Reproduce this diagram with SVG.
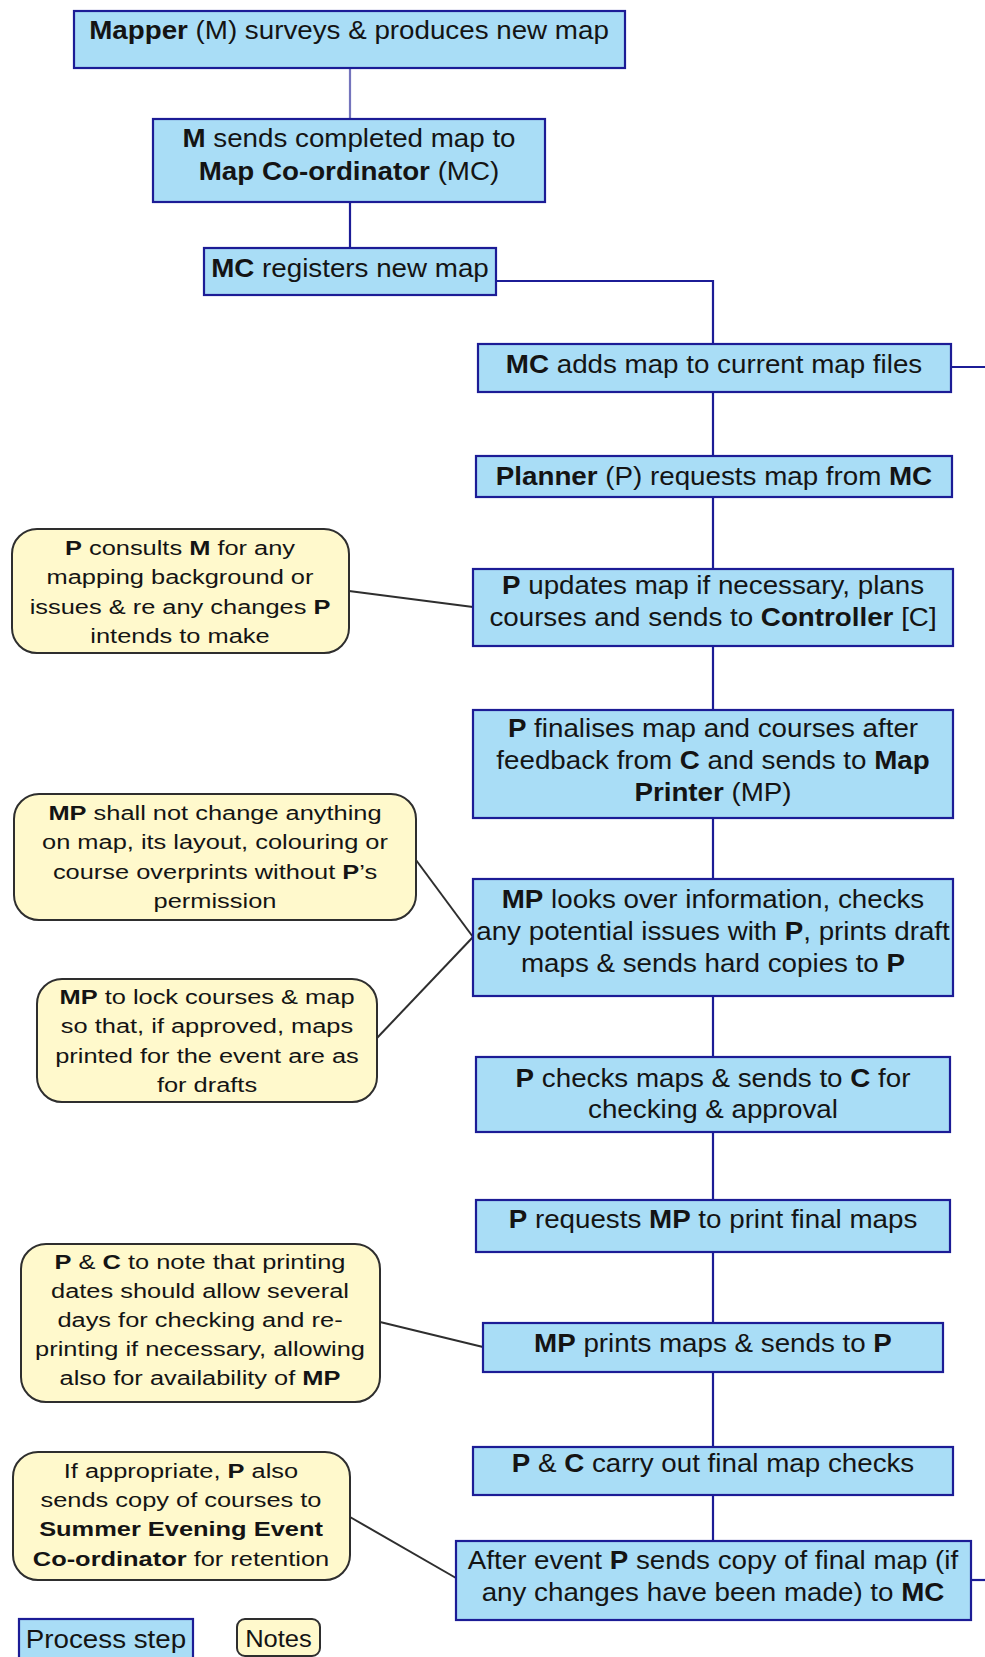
<svg xmlns="http://www.w3.org/2000/svg" width="985" height="1657" viewBox="0 0 985 1657">
<style>
.box rect{fill:#a9ddf6;stroke:#1c1c96;stroke-width:2.2}
.note rect{fill:#fff9cc;stroke:#2e2e2e;stroke-width:2}
text{font-family:"Liberation Sans",Arial,sans-serif;fill:#141414}
.bt{font-size:25px;text-anchor:middle}
.nt{font-size:20px;text-anchor:middle}
.b{font-weight:bold}
.flow{stroke:#1c1c96;stroke-width:2.2;fill:none}
.flow.light{stroke:#7474bc}
.link{stroke:#2e2e2e;stroke-width:2;fill:none}
</style>
<rect width="985" height="1657" fill="#ffffff"/>
<g id="connectors">
<line class="flow light" x1="350" y1="68" x2="350" y2="119"/>
<line class="flow" x1="350" y1="202" x2="350" y2="248"/>
<polyline class="flow" points="496,281 713,281 713,344"/>
<line class="flow" x1="951" y1="367" x2="985" y2="367"/>
<line class="flow" x1="713" y1="392" x2="713" y2="456"/>
<line class="flow" x1="713" y1="497" x2="713" y2="569"/>
<line class="flow" x1="713" y1="646" x2="713" y2="710"/>
<line class="flow" x1="713" y1="818" x2="713" y2="879"/>
<line class="flow" x1="713" y1="996" x2="713" y2="1057"/>
<line class="flow" x1="713" y1="1132" x2="713" y2="1200"/>
<line class="flow" x1="713" y1="1252" x2="713" y2="1323"/>
<line class="flow" x1="713" y1="1372" x2="713" y2="1447"/>
<line class="flow" x1="713" y1="1495" x2="713" y2="1541"/>
<line class="flow" x1="971" y1="1580" x2="985" y2="1580"/>
<line class="link" x1="349" y1="591" x2="473" y2="607"/>
<line class="link" x1="416" y1="860" x2="473" y2="937"/>
<line class="link" x1="377" y1="1038" x2="473" y2="937"/>
<line class="link" x1="380" y1="1322" x2="483" y2="1347"/>
<line class="link" x1="350" y1="1517" x2="456" y2="1578"/>
</g>
<g id="n1" class="box">
<rect x="74" y="11" width="551" height="57"/>
<text class="bt" transform="translate(349,0) scale(1.11,1)" y="39"><tspan class="b">Mapper</tspan> (M) surveys &amp; produces new map</text>
</g>
<g id="n2" class="box">
<rect x="153" y="119" width="392" height="83"/>
<text class="bt" transform="translate(349,0) scale(1.11,1)"><tspan x="0" y="147"><tspan class="b">M</tspan> sends completed map to</tspan><tspan x="0" y="180"><tspan class="b">Map Co-ordinator</tspan> (MC)</tspan></text>
</g>
<g id="n3" class="box">
<rect x="204" y="248" width="292" height="47"/>
<text class="bt" transform="translate(350,0) scale(1.11,1)" y="277"><tspan class="b">MC</tspan> registers new map</text>
</g>
<g id="n4" class="box">
<rect x="478" y="344" width="473" height="48"/>
<text class="bt" transform="translate(714,0) scale(1.11,1)" y="373"><tspan class="b">MC</tspan> adds map to current map files</text>
</g>
<g id="n5" class="box">
<rect x="476" y="456" width="476" height="41"/>
<text class="bt" transform="translate(714,0) scale(1.11,1)" y="485"><tspan class="b">Planner</tspan> (P) requests map from <tspan class="b">MC</tspan></text>
</g>
<g id="n6" class="box">
<rect x="473" y="569" width="480" height="77"/>
<text class="bt" transform="translate(713,0) scale(1.11,1)"><tspan x="0" y="594"><tspan class="b">P</tspan> updates map if necessary, plans</tspan><tspan x="0" y="626">courses and sends to <tspan class="b">Controller</tspan> [C]</tspan></text>
</g>
<g id="n7" class="box">
<rect x="473" y="710" width="480" height="108"/>
<text class="bt" transform="translate(713,0) scale(1.11,1)"><tspan x="0" y="737"><tspan class="b">P</tspan> finalises map and courses after</tspan><tspan x="0" y="769">feedback from <tspan class="b">C</tspan> and sends to <tspan class="b">Map</tspan></tspan><tspan x="0" y="801"><tspan class="b">Printer</tspan> (MP)</tspan></text>
</g>
<g id="n8" class="box">
<rect x="473" y="879" width="480" height="117"/>
<text class="bt" transform="translate(713,0) scale(1.11,1)"><tspan x="0" y="908"><tspan class="b">MP</tspan> looks over information, checks</tspan><tspan x="0" y="940">any potential issues with <tspan class="b">P</tspan>, prints draft</tspan><tspan x="0" y="972">maps &amp; sends hard copies to <tspan class="b">P</tspan></tspan></text>
</g>
<g id="n9" class="box">
<rect x="476" y="1057" width="474" height="75"/>
<text class="bt" transform="translate(713,0) scale(1.11,1)"><tspan x="0" y="1087"><tspan class="b">P</tspan> checks maps &amp; sends to <tspan class="b">C</tspan> for</tspan><tspan x="0" y="1118">checking &amp; approval</tspan></text>
</g>
<g id="n10" class="box">
<rect x="476" y="1200" width="474" height="52"/>
<text class="bt" transform="translate(713,0) scale(1.11,1)" y="1228"><tspan class="b">P</tspan> requests <tspan class="b">MP</tspan> to print final maps</text>
</g>
<g id="n11" class="box">
<rect x="483" y="1323" width="460" height="49"/>
<text class="bt" transform="translate(713,0) scale(1.11,1)" y="1352"><tspan class="b">MP</tspan> prints maps &amp; sends to <tspan class="b">P</tspan></text>
</g>
<g id="n12" class="box">
<rect x="473" y="1447" width="480" height="48"/>
<text class="bt" transform="translate(713,0) scale(1.11,1)" y="1472"><tspan class="b">P</tspan> &amp; <tspan class="b">C</tspan> carry out final map checks</text>
</g>
<g id="n13" class="box">
<rect x="456" y="1541" width="515" height="79"/>
<text class="bt" transform="translate(713,0) scale(1.11,1)"><tspan x="0" y="1569">After event <tspan class="b">P</tspan> sends copy of final map (if</tspan><tspan x="0" y="1601">any changes have been made) to <tspan class="b">MC</tspan></tspan></text>
</g>
<g id="note1" class="note">
<rect x="12" y="529" width="337" height="124" rx="25"/>
<text class="nt" transform="translate(180,0) scale(1.27,1)"><tspan x="0" y="555"><tspan class="b">P</tspan> consults <tspan class="b">M</tspan> for any</tspan><tspan x="0" y="584.5">mapping background or</tspan><tspan x="0" y="614">issues &amp; re any changes <tspan class="b">P</tspan></tspan><tspan x="0" y="643.5">intends to make</tspan></text>
</g>
<g id="note2" class="note">
<rect x="14" y="794" width="402" height="126" rx="25"/>
<text class="nt" transform="translate(215,0) scale(1.27,1)"><tspan x="0" y="820"><tspan class="b">MP</tspan> shall not change anything</tspan><tspan x="0" y="849.5">on map, its layout, colouring or</tspan><tspan x="0" y="879">course overprints without <tspan class="b">P</tspan>’s</tspan><tspan x="0" y="908.5">permission</tspan></text>
</g>
<g id="note3" class="note">
<rect x="37" y="979" width="340" height="123" rx="25"/>
<text class="nt" transform="translate(207,0) scale(1.27,1)"><tspan x="0" y="1004"><tspan class="b">MP</tspan> to lock courses &amp; map</tspan><tspan x="0" y="1033.5">so that, if approved, maps</tspan><tspan x="0" y="1063">printed for the event are as</tspan><tspan x="0" y="1092.5">for drafts</tspan></text>
</g>
<g id="note4" class="note">
<rect x="21" y="1244" width="359" height="158" rx="25"/>
<text class="nt" transform="translate(200,0) scale(1.27,1)"><tspan x="0" y="1269"><tspan class="b">P</tspan> &amp; <tspan class="b">C</tspan> to note that printing</tspan><tspan x="0" y="1298">dates should allow several</tspan><tspan x="0" y="1327">days for checking and re-</tspan><tspan x="0" y="1356">printing if necessary, allowing</tspan><tspan x="0" y="1385">also for availability of <tspan class="b">MP</tspan></tspan></text>
</g>
<g id="note5" class="note">
<rect x="13" y="1452" width="337" height="128" rx="25"/>
<text class="nt" transform="translate(181,0) scale(1.27,1)"><tspan x="0" y="1478">If appropriate, <tspan class="b">P</tspan> also</tspan><tspan x="0" y="1507">sends copy of courses to</tspan><tspan x="0" y="1536.5"><tspan class="b">Summer Evening Event</tspan></tspan><tspan x="0" y="1566"><tspan class="b">Co-ordinator</tspan> for retention</tspan></text>
</g>
<g id="legend-process" class="box">
<rect x="19" y="1619" width="174" height="50"/>
<text class="bt" transform="translate(106,0) scale(1.11,1)" y="1648">Process step</text>
</g>
<g id="legend-notes" class="note">
<rect x="237" y="1619" width="83" height="37" rx="8"/>
<text class="bt" style="font-size:23px" transform="translate(278.5,0) scale(1.11,1)" y="1647">Notes</text>
</g>
</svg>
